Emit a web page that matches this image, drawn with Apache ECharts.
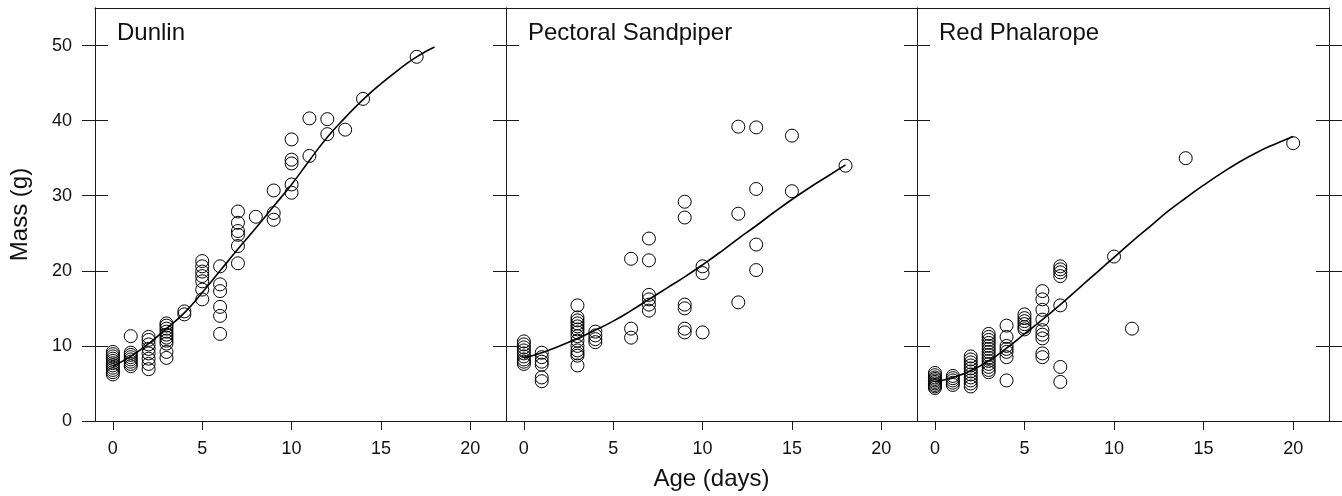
<!DOCTYPE html>
<html><head><meta charset="utf-8">
<script src="https://cdn.jsdelivr.net/npm/echarts@6/dist/echarts.min.js"></script>
<style>html,body{margin:0;padding:0;background:#fff}#chart{width:1342px;height:496px}</style>
</head><body><div id="chart"></div>
<script>
const panelTitles = ['Dunlin', 'Pectoral Sandpiper', 'Red Phalarope'];
const xTicks = [0, 5, 10, 15, 20];
const yTicks = [0, 10, 20, 30, 40, 50];
const xAxisTitle = 'Age (days)';
const yAxisTitle = 'Mass (g)';

// observed [age, mass] points
const dunlinPoints = [
  [0,9.2],[0,8.9],[0,8.6],[0,8.3],[0,8.0],[0,7.7],[0,7.4],[0,7.1],[0,6.8],[0,6.5],[0,6.2],
  [1,11.3],[1,9.1],[1,8.8],[1,8.5],[1,8.2],[1,7.9],[1,7.6],[1,7.3],
  [2,11.2],[2,10.8],[2,10.2],[2,9.6],[2,9.0],[2,8.3],[2,7.6],[2,6.9],
  [3,13.0],[3,12.7],[3,12.3],[3,11.9],[3,11.5],[3,11.1],[3,10.7],[3,10.3],[3,9.2],[3,8.4],
  [4,14.6],[4,14.2],
  [5,21.3],[5,20.6],[5,19.9],[5,19.3],[5,18.6],[5,17.5],[5,16.2],
  [6,20.6],[6,18.2],[6,17.3],[6,15.2],[6,14.0],[6,11.6],
  [7,27.9],[7,26.4],[7,25.3],[7,24.8],[7,23.3],[7,21.0],
  [8,27.2],
  [9,30.7],[9,27.7],[9,26.8],
  [10,37.5],[10,34.8],[10,34.3],[10,31.5],[10,30.4],
  [11,40.3],[11,35.3],
  [12,40.2],[12,38.2],
  [13,38.8],
  [14,42.9],
  [17,48.5]
];
const pectoralPoints = [
  [0,10.6],[0,10.2],[0,9.8],[0,9.4],[0,9.0],[0,8.6],[0,8.2],[0,7.9],[0,7.6],
  [1,9.1],[1,8.5],[1,7.9],[1,7.5],[1,5.8],[1,5.3],
  [3,15.4],[3,13.8],[3,13.4],[3,13.0],[3,12.6],[3,12.2],[3,11.8],[3,11.3],[3,10.7],[3,10.0],[3,9.4],[3,9.0],[3,8.7],[3,7.4],
  [4,11.9],[4,11.4],[4,10.9],[4,10.5],
  [6,21.6],[6,12.3],[6,11.1],
  [7,24.3],[7,21.4],[7,16.8],[7,16.2],[7,15.5],[7,14.7],
  [9,29.2],[9,27.1],[9,15.5],[9,15.0],[9,12.3],[9,11.8],
  [10,20.6],[10,19.7],[10,11.8],
  [12,39.2],[12,27.6],[12,15.8],
  [13,39.1],[13,30.9],[13,23.5],[13,20.1],
  [15,38.0],[15,30.6],
  [18,34.0]
];
const phalaropePoints = [
  [0,6.4],[0,6.1],[0,5.8],[0,5.6],[0,5.4],[0,5.2],[0,5.0],[0,4.8],[0,4.6],[0,4.4],
  [1,6.0],[1,5.7],[1,5.4],[1,5.1],[1,4.8],
  [2,8.6],[2,8.2],[2,7.8],[2,7.4],[2,7.0],[2,6.6],[2,6.2],[2,5.8],[2,5.4],[2,5.0],[2,4.6],
  [3,11.6],[3,11.2],[3,10.8],[3,10.4],[3,10.0],[3,9.6],[3,9.2],[3,8.8],[3,8.4],[3,8.0],[3,7.6],[3,7.2],[3,6.8],[3,6.5],
  [4,12.7],[4,11.2],[4,10.0],[4,9.6],[4,9.2],[4,8.5],[4,5.4],
  [5,14.2],[5,13.7],[5,13.3],[5,12.9],[5,12.5],[5,12.2],
  [6,17.3],[6,16.2],[6,14.8],[6,13.5],[6,12.1],[6,11.5],[6,11.0],[6,9.0],[6,8.5],
  [7,20.6],[7,20.2],[7,19.8],[7,19.3],[7,15.4],[7,7.2],[7,5.2],
  [10,21.9],
  [11,12.3],
  [14,35.0],
  [20,37.0]
];

// fitted growth curves
const dunlinCurveAge = [0,1,2,3,4,5,6,7,8,9,10,11,12,13,14,15,16,17,18];
const dunlinCurveMass = [7.3,8.6,10.3,12.3,14.4,17.1,20.0,22.9,25.7,28.6,31.5,34.7,37.8,40.4,42.8,44.9,46.8,48.5,49.8];
const pectoralCurveAge = [0,1,2,3,4,5,6,7,8,9,10,11,12,13,14,15,16,17,18];
const pectoralCurveMass = [8.4,9.1,10.0,11.0,12.1,13.3,14.7,16.2,17.7,19.2,20.8,22.5,24.3,26.0,27.8,29.5,31.1,32.6,34.1];
const phalaropeCurveAge = [0,1,2,3,4,5,6,7,8,9,10,11,12,13,14,15,16,17,18,19,20];
const phalaropeCurveMass = [5.2,5.8,6.7,8.0,9.7,11.6,13.5,15.5,17.6,19.7,21.8,23.9,25.9,27.9,29.7,31.4,33.0,34.5,35.8,36.9,37.9];

const FONT = "'Liberation Sans', Arial, sans-serif";
const LINE = { color: '#1a1a1a', width: 1 };
const gridLefts = [95, 506, 917];
const gridWidths = [411, 411, 412];
const pointSets = [dunlinPoints, pectoralPoints, phalaropePoints];
const curves = [
  [dunlinCurveAge, dunlinCurveMass],
  [pectoralCurveAge, pectoralCurveMass],
  [phalaropeCurveAge, phalaropeCurveMass]
];

const grids = gridLefts.map((l, i) => ({ left: l, width: gridWidths[i], top: 8, height: 413 }));

const xAxes = [];
for (let i = 0; i < 3; i++) {
  xAxes.push({
    type: 'value', gridIndex: i, min: -1, max: 22, position: 'bottom',
    axisLine: { show: true, onZero: false, lineStyle: LINE },
    axisTick: { show: true, length: 9, customValues: xTicks, lineStyle: LINE },
    axisLabel: { customValues: xTicks, margin: 19, fontSize: 18, color: '#111', fontFamily: FONT },
    splitLine: { show: false },
    name: i === 1 ? xAxisTitle : '', nameLocation: 'middle', nameGap: 46,
    nameTextStyle: { fontSize: 24, color: '#111', fontFamily: FONT }
  });
}
for (let i = 0; i < 3; i++) {
  xAxes.push({
    type: 'value', gridIndex: i, min: -1, max: 22, position: 'top',
    axisLine: { show: true, onZero: false, lineStyle: LINE },
    axisTick: { show: false }, axisLabel: { show: false }, splitLine: { show: false }
  });
}

function yAx(i, pos, inside, labels) {
  return {
    type: 'value', gridIndex: i, min: 0, max: 55, position: pos,
    axisLine: { show: true, onZero: false, lineStyle: LINE },
    axisTick: { show: true, inside: inside, length: 13, customValues: yTicks, lineStyle: LINE },
    axisLabel: labels ? { customValues: yTicks, margin: 23, fontSize: 18, color: '#111', fontFamily: FONT } : { show: false },
    splitLine: { show: false },
    name: labels ? yAxisTitle : '', nameLocation: 'middle', nameGap: 63, nameRotate: 90,
    nameTextStyle: { fontSize: 24, color: '#111', fontFamily: FONT }
  };
}
const yAxes = [
  yAx(0, 'left', true, true), yAx(1, 'left', true, false), yAx(2, 'left', true, false),
  yAx(0, 'right', true, false), yAx(1, 'right', true, false), yAx(2, 'right', true, false),
  yAx(0, 'left', false, false), yAx(2, 'right', false, false)
];

const series = [];
for (let i = 0; i < 3; i++) {
  series.push({
    type: 'scatter', xAxisIndex: i, yAxisIndex: i, data: pointSets[i],
    symbol: 'circle', symbolSize: 13,
    itemStyle: { color: 'rgba(255,255,255,0)', borderColor: '#000', borderWidth: 1, opacity: 1 },
    emphasis: { disabled: true }
  });
  series.push({
    type: 'line', xAxisIndex: i, yAxisIndex: i,
    data: curves[i][0].map((a, k) => [a, curves[i][1][k]]),
    smooth: true, showSymbol: false, symbol: 'none',
    lineStyle: { color: '#000', width: 1.6 }, z: 3,
    emphasis: { disabled: true }
  });
}

const titles = panelTitles.map((t, i) => ({
  text: t, left: gridLefts[i] + 22, top: 21, padding: 0,
  textStyle: { fontSize: 24, fontWeight: 'normal', color: '#111', fontFamily: FONT }
}));

const chart = echarts.init(document.getElementById('chart'), null, { renderer: 'canvas' });
chart.setOption({
  backgroundColor: '#fff',
  animation: false,
  title: titles,
  grid: grids,
  xAxis: xAxes,
  yAxis: yAxes,
  series: series
});
</script>
</body></html>
